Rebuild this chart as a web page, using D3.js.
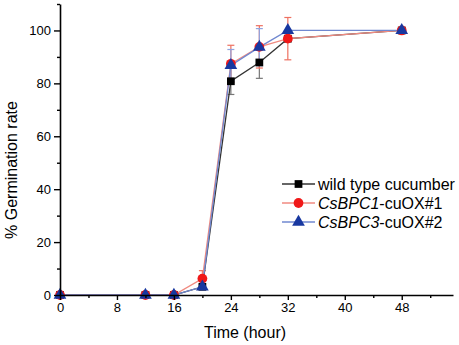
<!DOCTYPE html>
<html><head><meta charset="utf-8">
<script src="https://cdn.jsdelivr.net/npm/d3@7"></script>
<style>body{margin:0;background:#fff}svg{display:block}text{font-family:"Liberation Sans",Arial,sans-serif}</style>
</head><body><svg id="c" width="459" height="345"></svg>
<script>
const times = [0, 12, 16, 20, 24, 28, 32, 48];
const wildType = [0, 0, 0, 3.1, 80.8, 87.9, 96.9, 100];
const wildErr = [0, 0, 0, 0.8, 5, 6, 0, 0];
const csbpc1 = [0, 0, 0, 6.2, 87.4, 93.8, 96.9, 100];
const csbpc1Err = [0, 0, 0, 3, 7, 8, 8, 0];
const csbpc3 = [0, 0, 0, 3.1, 86.8, 93.7, 100, 100];
const csbpc3Err = [0, 0, 0, 0.8, 6, 7, 0, 0];
const seriesNames = ["wild type cucumber", "CsBPC1-cuOX#1", "CsBPC3-cuOX#2"];
const xTicks = [0, 8, 16, 24, 32, 40, 48];
const yTicks = [0, 20, 40, 60, 80, 100];

const svg = d3.select("#c");
const x = d3.scaleLinear().domain([0, 55.2]).range([60, 453]);
const y = d3.scaleLinear().domain([0, 110]).range([295, 4]);

const series = [
  {name: seriesNames[0], vals: wildType, err: wildErr, line: "#333", mark: "#000", errc: "#777", shape: d3.symbolSquare, size: 60},
  {name: seriesNames[1], vals: csbpc1, err: csbpc1Err, line: "#f08a80", mark: "#f01818", errc: "#ee7060", shape: d3.symbolCircle, size: 75},
  {name: seriesNames[2], vals: csbpc3, err: csbpc3Err, line: "#7088d0", mark: "#1838a0", errc: "#90a4e0", shape: d3.symbolTriangle, size: 70}
];

series.forEach(s => {
  const g = svg.append("g");
  times.forEach((t, i) => {
    if (!s.err[i]) return;
    const cx = x(t), y1 = y(s.vals[i] + s.err[i]), y0 = y(s.vals[i] - s.err[i]);
    g.append("line").attr("x1", cx).attr("x2", cx).attr("y1", y1).attr("y2", y0).attr("stroke", s.errc).attr("stroke-width", 1.2);
    [y1, y0].forEach(yy => g.append("line").attr("x1", cx - 3.5).attr("x2", cx + 3.5).attr("y1", yy).attr("y2", yy).attr("stroke", s.errc).attr("stroke-width", 1.2));
  });
});

const line = d3.line().x((d, i) => x(times[i])).y(d => y(d));
series.forEach(s => {
  svg.append("path").datum(s.vals).attr("d", line).attr("fill", "none").attr("stroke", s.line).attr("stroke-width", 1.3);
});
series.forEach(s => {
  svg.append("g").selectAll("path").data(s.vals).join("path")
    .attr("transform", (d, i) => `translate(${x(times[i])},${y(d)})`)
    .attr("d", d3.symbol().type(s.shape).size(s.size))
    .attr("fill", s.mark);
});

svg.append("g").attr("transform", "translate(0,295)")
  .call(d3.axisBottom(x).tickValues(xTicks).tickSize(5).tickSizeOuter(0).tickPadding(3));
svg.append("g").attr("transform", "translate(0,295)")
  .call(d3.axisBottom(x).tickValues([4, 12, 20, 28, 36, 44, 52]).tickSize(3).tickFormat("").tickSizeOuter(0))
  .select(".domain").remove();
svg.append("g").attr("transform", "translate(60,0)")
  .call(d3.axisLeft(y).tickValues(yTicks).tickSize(6).tickSizeOuter(0).tickPadding(3));
svg.append("g").attr("transform", "translate(60,0)")
  .call(d3.axisLeft(y).tickValues([10, 30, 50, 70, 90, 110]).tickSize(3).tickFormat("").tickSizeOuter(0))
  .select(".domain").remove();
svg.selectAll(".domain").attr("stroke", "#000").attr("stroke-width", 1.6);
svg.selectAll(".tick line").attr("stroke", "#000").attr("stroke-width", 1.4);
svg.selectAll(".tick text").attr("font-size", 13).attr("fill", "#000").attr("font-family", "Liberation Sans, Arial, sans-serif");

svg.append("text").attr("x", 245).attr("y", 338).attr("text-anchor", "middle").attr("font-size", 16).text("Time (hour)");
svg.append("text").attr("transform", "translate(17,170) rotate(-90)").attr("text-anchor", "middle").attr("font-size", 16).text("% Germination rate");

const lg = svg.append("g");
series.forEach((s, i) => {
  const yy = 184 + i * 19;
  lg.append("line").attr("x1", 282).attr("x2", 315).attr("y1", yy).attr("y2", yy).attr("stroke", s.line).attr("stroke-width", 1.3);
  lg.append("path").attr("transform", `translate(298.5,${yy})`).attr("d", d3.symbol().type(s.shape).size(s.size)).attr("fill", s.mark);
  const t = lg.append("text").attr("x", 318).attr("y", yy + 5.5).attr("font-size", 16);
  if (i === 0) t.text(s.name);
  else {
    const parts = s.name.split("-");
    t.append("tspan").attr("font-style", "italic").text(parts[0]);
    t.append("tspan").text("-" + parts[1]);
  }
});
</script></body></html>
